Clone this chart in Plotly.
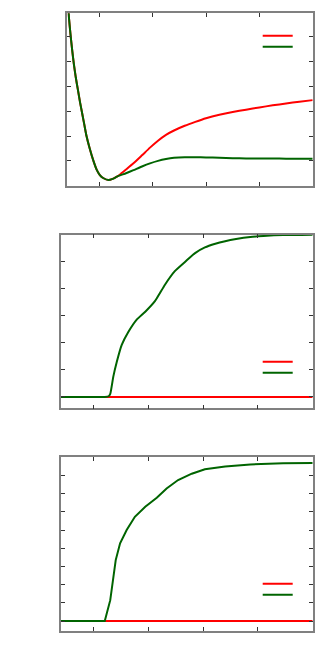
import plotly.graph_objects as go

# panel 1 - energy curves
x1 = [0.40, 0.43, 0.46, 0.49, 0.52, 0.56, 0.60, 0.64, 0.68, 0.72, 0.76, 0.82, 0.89, 0.95,
      1.01, 1.08, 1.17, 1.25, 1.33, 1.40, 1.50, 1.64, 1.80, 1.95, 2.10, 2.25, 2.40, 2.60,
      2.80, 3.00, 3.25, 3.50, 3.75, 4.00, 4.25, 4.50, 4.75, 5.00]
shared1 = [0.36, 0.16, 0.02, -0.10, -0.21, -0.33, -0.43, -0.53, -0.62, -0.71, -0.80, -0.90,
           -1.00, -1.07, -1.114, -1.14, -1.154, -1.145, -1.127]
red1 = shared1 + [-1.105, -1.07, -1.02, -0.955, -0.893, -0.837, -0.79, -0.755, -0.717, -0.685,
                  -0.656, -0.628, -0.606, -0.587, -0.569, -0.552, -0.537, -0.523, -0.51]
green1 = shared1 + [-1.115, -1.10, -1.075, -1.045, -1.02, -1.00, -0.985, -0.975, -0.97, -0.97,
                    -0.972, -0.975, -0.978, -0.98, -0.981, -0.981, -0.982, -0.982, -0.982]

# panel 2
x2 = [0.40, 1.20, 1.27, 1.30, 1.356, 1.42, 1.51, 1.63, 1.78, 1.94, 2.12, 2.30, 2.48, 2.67,
      2.85, 3.03, 3.22, 3.40, 3.60, 3.86, 4.10, 4.46, 5.00]
red2 = [0.0] * len(x2)
green2 = [0.0, 0.0, 0.005, 0.022, 0.15, 0.26, 0.385, 0.48, 0.57, 0.63, 0.71, 0.83, 0.93, 1.00,
          1.064, 1.106, 1.133, 1.152, 1.168, 1.183, 1.19, 1.197, 1.20]

# panel 3
x3 = [0.40, 1.20, 1.30, 1.356, 1.40, 1.48, 1.60, 1.75, 1.94, 2.15, 2.33, 2.54, 2.79, 3.03,
      3.22, 3.40, 3.86, 4.46, 5.00]
red3 = [0.0] * len(x3)
green3 = [0.0, 0.0, 0.115, 0.235, 0.335, 0.427, 0.50, 0.573, 0.628, 0.678, 0.729, 0.775, 0.81,
          0.834, 0.842, 0.849, 0.861, 0.867, 0.868]

RED = "#ff0000"
GREEN = "#006400"

fig = go.Figure()
panels = [(x1, red1, green1), (x2, red2, green2), (x3, red3, green3)]
for i, (xs, r, g) in enumerate(panels):
    ax = "" if i == 0 else str(i + 1)
    shape = "linear" if i == 2 else "spline"
    fig.add_trace(go.Scatter(x=xs, y=r, mode="lines", name="",
                             line=dict(color=RED, width=2, shape=shape, smoothing=0.5),
                             xaxis="x" + ax, yaxis="y" + ax,
                             legend="legend" + ("" if i == 0 else str(2 * i + 1))))
    fig.add_trace(go.Scatter(x=xs, y=g, mode="lines", name="",
                             line=dict(color=GREEN, width=2, shape=shape, smoothing=0.5),
                             xaxis="x" + ax, yaxis="y" + ax, legend="legend" + str(2 * i + 2)))

W, H = 332, 666
OFF = 8  # page body margin
frames = [(67.3, 312.7, 13.3, 185.7), (61, 312.7, 234.7, 408.3), (61, 312.7, 457.3, 630.7)]
yranges = [[-1.2, 0.19], [-0.084, 1.2], [-0.053, 0.9]]
ydticks = [0.2, 0.2, 0.1]
legend_y = [(35.7, 46.7), (361.7, 372.7), (583.7, 594.7)]

axis_style = dict(showline=True, linecolor="#808080", linewidth=1.5, mirror="ticks",
                  ticks="inside", ticklen=4, tickwidth=1, tickcolor="#333333",
                  showticklabels=False, showgrid=False, zeroline=False)
layout = dict(width=W, height=H, margin=dict(l=0, r=0, t=0, b=0),
              paper_bgcolor="white", plot_bgcolor="white", showlegend=True)
for i, (l, r, t, b) in enumerate(frames):
    l, r, t, b = l - OFF, r - OFF, t - OFF, b - OFF
    ax = "" if i == 0 else str(i + 1)
    layout["xaxis" + ax] = dict(domain=[l / W, r / W], range=[0.4, 5.0], tickvals=[1, 2, 3, 4, 5],
                                anchor="y" + ax, **axis_style)
    layout["yaxis" + ax] = dict(domain=[1 - b / H, 1 - t / H], range=yranges[i], dtick=ydticks[i],
                                tick0=0, anchor="x" + ax, **axis_style)
    for j, ly in enumerate(legend_y[i]):
        k = 2 * i + j + 1
        name = "legend" if k == 1 else "legend" + str(k)
        layout[name] = dict(x=(262.7 - 5 - OFF) / W, xanchor="left", y=1 - (ly - OFF) / H,
                            yanchor="middle", bgcolor="rgba(0,0,0,0)", borderwidth=0,
                            font=dict(size=10))
fig.update_layout(**layout)
fig.write_html("out.html")
